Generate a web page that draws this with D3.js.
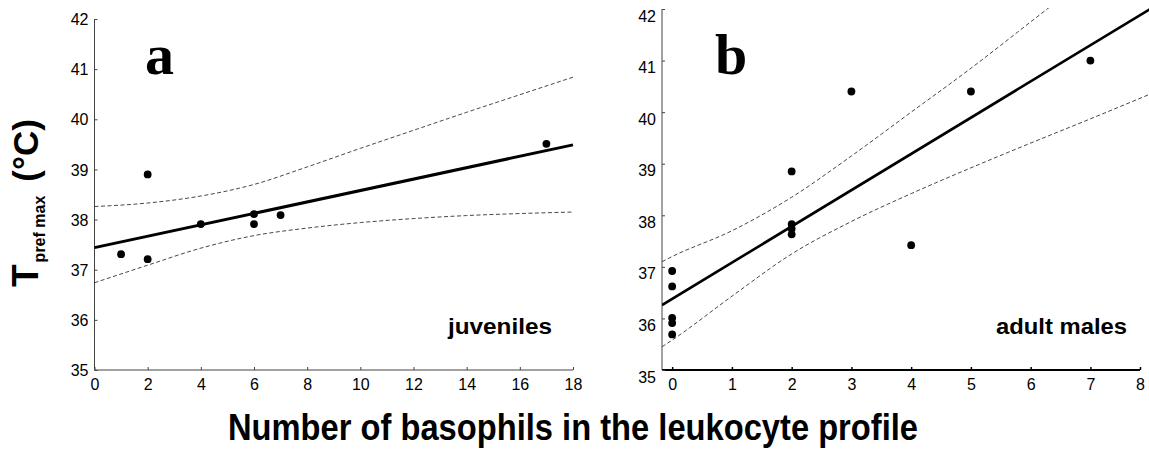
<!DOCTYPE html>
<html>
<head>
<meta charset="utf-8">
<script src="https://cdn.jsdelivr.net/npm/d3@7"></script>
<style>
  body { margin: 0; background: #fff; }
  svg { display: block; font-family: "Liberation Sans", Arial, sans-serif; }
</style>
</head>
<body>
<svg width="1149" height="455"></svg>
<script>
// panel a: juveniles
var juvBaso = [1, 2, 2, 4, 6, 6, 7, 17];
var juvTemp = [37.31, 38.9, 37.21, 37.91, 38.11, 37.91, 38.09, 39.51];
var juvFitX = [0, 18];
var juvFitY = [37.44, 39.49];
var juvCiX  = [0, 2, 4, 6, 8, 10, 12, 14, 16, 18];
var juvCiHi = [38.26, 38.33, 38.47, 38.7, 39.05, 39.42, 39.78, 40.14, 40.49, 40.84];
var juvCiLo = [36.74, 37.09, 37.43, 37.68, 37.83, 37.94, 38.02, 38.08, 38.12, 38.15];
var juvXTicks = [0, 2, 4, 6, 8, 10, 12, 14, 16, 18];

// panel b: adult males
var adBaso = [0, 0, 0, 0, 0, 2, 2, 2, 2, 3, 4, 5, 7];
var adTemp = [36.92, 36.62, 36.01, 35.91, 35.69, 38.85, 37.83, 37.74, 37.63, 40.4, 37.42, 40.4, 41.0];
var adFitX = [-0.17, 8];
var adFitY = [36.26, 42.0];
var adCiX  = [-0.17, 0, 1, 2, 3, 4, 5, 6, 7, 8];
var adCiHi = [37.1, 37.2, 37.7, 38.35, 39.15, 40.0, 40.85, 41.75, 42.65, 43.55];
var adCiLo = [35.45, 35.58, 36.43, 37.25, 37.88, 38.42, 38.92, 39.4, 39.87, 40.35];
var adXTicks = [0, 1, 2, 3, 4, 5, 6, 7, 7.83];

var yTicks = [35, 36, 37, 38, 39, 40, 41, 42];

var svg = d3.select("svg");

var xA = d3.scaleLinear().domain([0, 18]).range([94.5, 573]);
var yA = d3.scaleLinear().domain([35, 42]).range([370, 19]);
var xB = d3.scaleLinear().domain([-0.17, 7.83]).range([662, 1140]);
var yB = d3.scaleLinear().domain([35, 42]).range([370, 9]);

function zip(xs, ys) { return xs.map(function(x, i) { return [x, ys[i]]; }); }

// clip for panel b (lines run off the top)
svg.append("defs").append("clipPath").attr("id", "clipB")
  .append("rect").attr("x", 662).attr("y", 8).attr("width", 490).attr("height", 364);

function drawPanel(x, y, opts) {
  var g = svg.append("g");

  // axes
  var xAxis = d3.axisBottom(x).tickValues(opts.xTicks).tickSize(-3).tickPadding(9)
    .tickFormat(opts.xFormat || d3.format("d"));
  var gx = g.append("g").attr("transform", "translate(0," + y.range()[0] + ")").call(xAxis);
  gx.attr("font-size", 16).attr("font-family", null);
  gx.select(".domain").attr("stroke", opts.xColor).attr("stroke-width", opts.xWidth)
    .attr("d", "M" + x.range()[0] + ",0H" + x.range()[1]);
  gx.selectAll(".tick line").attr("stroke", opts.xColor).attr("stroke-width", opts.xWidth > 1 ? 1.5 : 1);
  gx.selectAll(".tick text").attr("fill", "#000");

  var yAxis = d3.axisLeft(y).tickValues(yTicks).tickSize(-3).tickPadding(6)
    .tickFormat(d3.format("d"));
  var gy = g.append("g").attr("transform", "translate(" + x.range()[0] + ",0)").call(yAxis);
  gy.attr("font-size", 16).attr("font-family", null);
  gy.select(".domain").attr("stroke", "#444").attr("stroke-width", 1)
    .attr("d", "M0," + y.range()[0] + "V" + y.range()[1]);
  gy.selectAll(".tick line").attr("stroke", "#444");
  gy.selectAll(".tick text").attr("fill", "#000").attr("dy", opts.yLabelDy);

  var plot = g.append("g");
  if (opts.clip) plot.attr("clip-path", "url(#" + opts.clip + ")");

  var line = d3.line().x(function(d) { return x(d[0]); }).y(function(d) { return y(d[1]); });
  var curve = d3.line().curve(d3.curveMonotoneX)
    .x(function(d) { return x(d[0]); }).y(function(d) { return y(d[1]); });

  [opts.ciHi, opts.ciLo].forEach(function(ci) {
    plot.append("path")
      .attr("d", curve(zip(opts.ciX, ci)))
      .attr("fill", "none")
      .attr("stroke", "#333")
      .attr("stroke-width", 0.9)
      .attr("stroke-dasharray", "4,2.5");
  });

  plot.append("path")
    .attr("d", line(zip(opts.fitX, opts.fitY)))
    .attr("fill", "none")
    .attr("stroke", "#000")
    .attr("stroke-width", opts.fitWidth);

  plot.selectAll("circle")
    .data(zip(opts.px, opts.py))
    .join("circle")
    .attr("cx", function(d) { return x(d[0]); })
    .attr("cy", function(d) { return y(d[1]); })
    .attr("r", 3.9)
    .attr("fill", "#000");

  // panel letter and group name
  g.append("text")
    .attr("x", opts.letterX).attr("y", 74)
    .attr("font-family", "'Liberation Serif', 'Times New Roman', serif")
    .attr("font-weight", "bold").attr("font-size", 58)
    .text(opts.letter);

  g.append("text")
    .attr("x", opts.nameX).attr("y", 334)
    .attr("font-weight", "bold").attr("font-size", 22)
    .attr("textLength", opts.nameW).attr("lengthAdjust", "spacingAndGlyphs")
    .text(opts.name);
}

drawPanel(xA, yA, {
  xTicks: juvXTicks, xColor: "#444", xWidth: 1, yLabelDy: "0.35em",
  ciX: juvCiX, ciHi: juvCiHi, ciLo: juvCiLo,
  fitX: juvFitX, fitY: juvFitY, fitWidth: 3,
  px: juvBaso, py: juvTemp,
  letter: "a", letterX: 145, name: "juveniles", nameX: 448, nameW: 104
});

drawPanel(xB, yB, {
  xTicks: adXTicks, xColor: "#000", xWidth: 2, yLabelDy: "0.75em",
  xFormat: function(d) { return d > 7.5 ? "8" : d; },
  ciX: adCiX, ciHi: adCiHi, ciLo: adCiLo,
  fitX: adFitX, fitY: adFitY, fitWidth: 2.6,
  px: adBaso, py: adTemp,
  letter: "b", letterX: 715, name: "adult males", nameX: 996, nameW: 131,
  clip: "clipB"
});

// y axis title: T pref max (°C)
var yt = svg.append("text")
  .attr("transform", "translate(38,287) rotate(-90)")
  .attr("font-weight", "bold")
  .attr("fill", "#000");
yt.append("tspan").attr("font-size", 37).text("T");
yt.append("tspan").attr("font-size", 16).attr("dy", 7).attr("dx", 2).text("pref max");
yt.append("tspan").attr("font-size", 35).attr("dy", -7).attr("dx", 14).text("(°C)");

// x axis title
svg.append("text")
  .attr("x", 228).attr("y", 440)
  .attr("font-weight", "bold").attr("font-size", 37)
  .attr("textLength", 690).attr("lengthAdjust", "spacingAndGlyphs")
  .text("Number of basophils in the leukocyte profile");
</script>
</body>
</html>
